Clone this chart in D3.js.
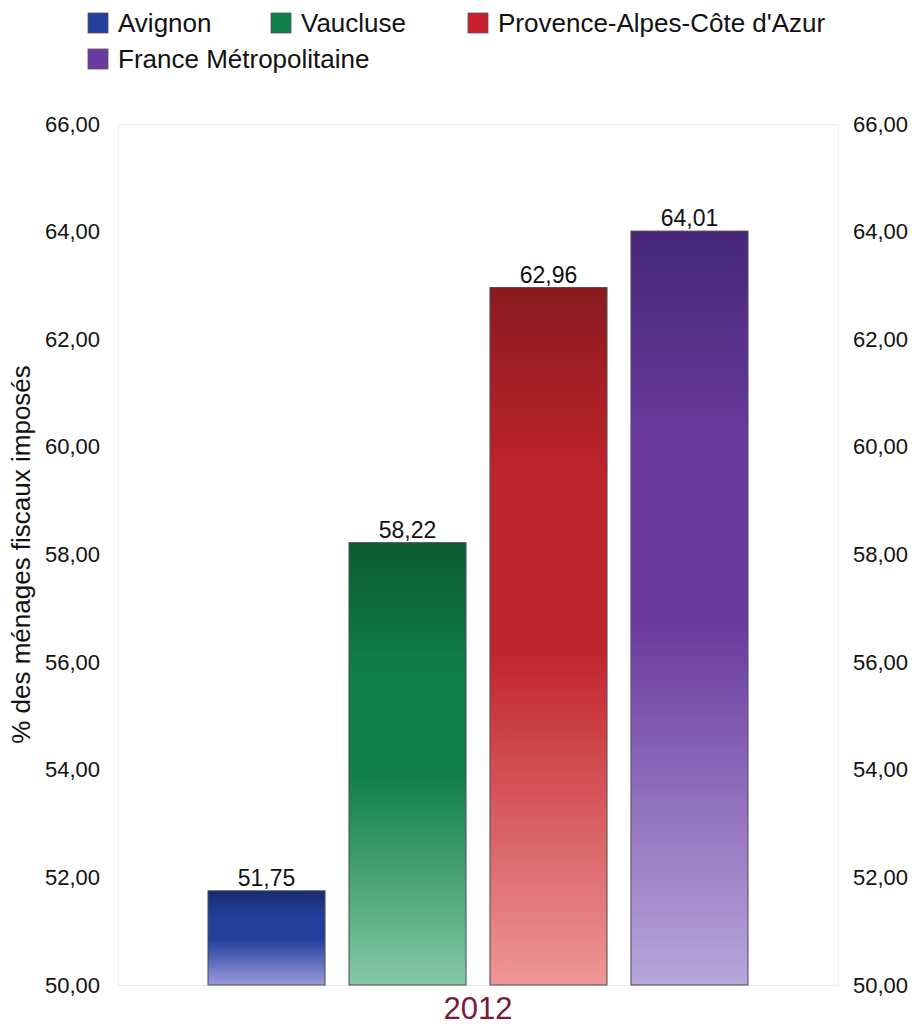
<!DOCTYPE html>
<html>
<head>
<meta charset="utf-8">
<script src="https://cdn.jsdelivr.net/npm/d3@7"></script>
<style>
  body { margin: 0; background: #fff; }
  svg { font-family: "Liberation Sans", Arial, sans-serif; }
</style>
</head>
<body>
<div class="container"></div>
<script>
// data
const categories = ["Avignon", "Vaucluse", "Provence-Alpes-Côte d'Azur", "France Métropolitaine"]
const values = [51.75, 58.22, 62.96, 64.01]
const year = "2012"
const yTicks = [50, 52, 54, 56, 58, 60, 62, 64, 66]
const yTitle = "% des ménages fiscaux imposés"

// colours: top, middle, bottom of each bar gradient
const colors = [
    {top: "#1a2c70", mid: "#22409c", bottom: "#9c9ade", swatch: "#22409c"},
    {top: "#0b5c32", mid: "#0e7f45", bottom: "#86c8a6", swatch: "#0e7f4a"},
    {top: "#8a1a1f", mid: "#c1252c", bottom: "#ee9696", swatch: "#c8202e"},
    {top: "#462776", mid: "#6b3b9e", bottom: "#b8a6dc", swatch: "#6b3ba0"}
]

const width = 917, height = 1026
const plot = {left: 118, right: 838, top: 124, bottom: 985}

const svg = d3.select(".container").append("svg")
    .attr("width", width)
    .attr("height", height)

const fmt = v => d3.format(".2f")(v).replace(".", ",")

const y = d3.scaleLinear().domain([50, 66]).range([plot.bottom, plot.top])

const x0 = d3.scaleBand().domain([year]).range([plot.left, plot.right])
const x1 = d3.scaleBand().domain(categories)
    .range([x0(year) + 90, x0(year) + x0.bandwidth() - 90])
    .paddingInner(0.17)

// gradients
const defs = svg.append("defs")
colors.forEach((c, i) => {
    const g = defs.append("linearGradient")
        .attr("id", "grad" + i)
        .attr("x1", 0).attr("y1", 0).attr("x2", 0).attr("y2", 1)
    g.append("stop").attr("offset", "0%").attr("stop-color", c.top)
    g.append("stop").attr("offset", "28%").attr("stop-color", c.mid)
    g.append("stop").attr("offset", "52%").attr("stop-color", c.mid)
    g.append("stop").attr("offset", "100%").attr("stop-color", c.bottom)
})

// plot frame
svg.append("rect")
    .attr("x", plot.left + 0.5)
    .attr("y", plot.top + 0.5)
    .attr("width", plot.right - plot.left)
    .attr("height", plot.bottom - plot.top)
    .attr("fill", "none")
    .attr("stroke", "#eeeeee")

// axes
const leftAxis = d3.axisLeft(y).tickValues(yTicks).tickFormat(fmt).tickSize(0).tickPadding(18)
const rightAxis = d3.axisRight(y).tickValues(yTicks).tickFormat(fmt).tickSize(0).tickPadding(15)

const gl = svg.append("g").attr("transform", `translate(${plot.left},0)`).call(leftAxis)
const gr = svg.append("g").attr("transform", `translate(${plot.right},0)`).call(rightAxis)
;[gl, gr].forEach(g => {
    g.select(".domain").remove()
    g.selectAll("text").attr("font-size", 22).attr("fill", "#111")
        .attr("font-family", "Liberation Sans, Arial, sans-serif")
})

// bars
const data = categories.map((c, i) => ({cat: c, value: values[i], i: i}))

svg.selectAll("rect.bar").data(data).enter()
    .append("rect")
    .attr("class", "bar")
    .attr("x", d => x1(d.cat))
    .attr("y", d => y(d.value))
    .attr("width", x1.bandwidth())
    .attr("height", d => y(50) - y(d.value))
    .attr("fill", d => `url(#grad${d.i})`)
    .attr("stroke", "#4a4a55")
    .attr("stroke-width", 1)

svg.selectAll("text.val").data(data).enter()
    .append("text")
    .attr("class", "val")
    .attr("x", d => x1(d.cat) + x1.bandwidth() / 2)
    .attr("y", d => y(d.value) - 5)
    .attr("text-anchor", "middle")
    .attr("font-size", 23)
    .attr("fill", "#111")
    .text(d => fmt(d.value))

// x label
svg.append("text")
    .attr("x", x0(year) + x0.bandwidth() / 2)
    .attr("y", 1019)
    .attr("text-anchor", "middle")
    .attr("font-size", 31)
    .attr("fill", "#7a1838")
    .text(year)

// y title
svg.append("text")
    .attr("transform", `translate(30,${(plot.top + plot.bottom) / 2}) rotate(-90)`)
    .attr("text-anchor", "middle")
    .attr("font-size", 26)
    .attr("fill", "#111")
    .text(yTitle)

// legend
const legendPos = [
    {x: 88, y: 13}, {x: 271, y: 13}, {x: 468, y: 13}, {x: 88, y: 49}
]
const lg = svg.selectAll("g.legend").data(data).enter()
    .append("g")
    .attr("class", "legend")
    .attr("transform", d => `translate(${legendPos[d.i].x},${legendPos[d.i].y})`)
lg.append("rect")
    .attr("width", 20).attr("height", 20)
    .attr("fill", d => colors[d.i].swatch)
    .attr("stroke", "#555")
    .attr("stroke-width", 0.8)
lg.append("text")
    .attr("x", 30).attr("y", 19)
    .attr("font-size", 26)
    .attr("fill", "#111")
    .text(d => d.cat)
</script>
</body>
</html>
